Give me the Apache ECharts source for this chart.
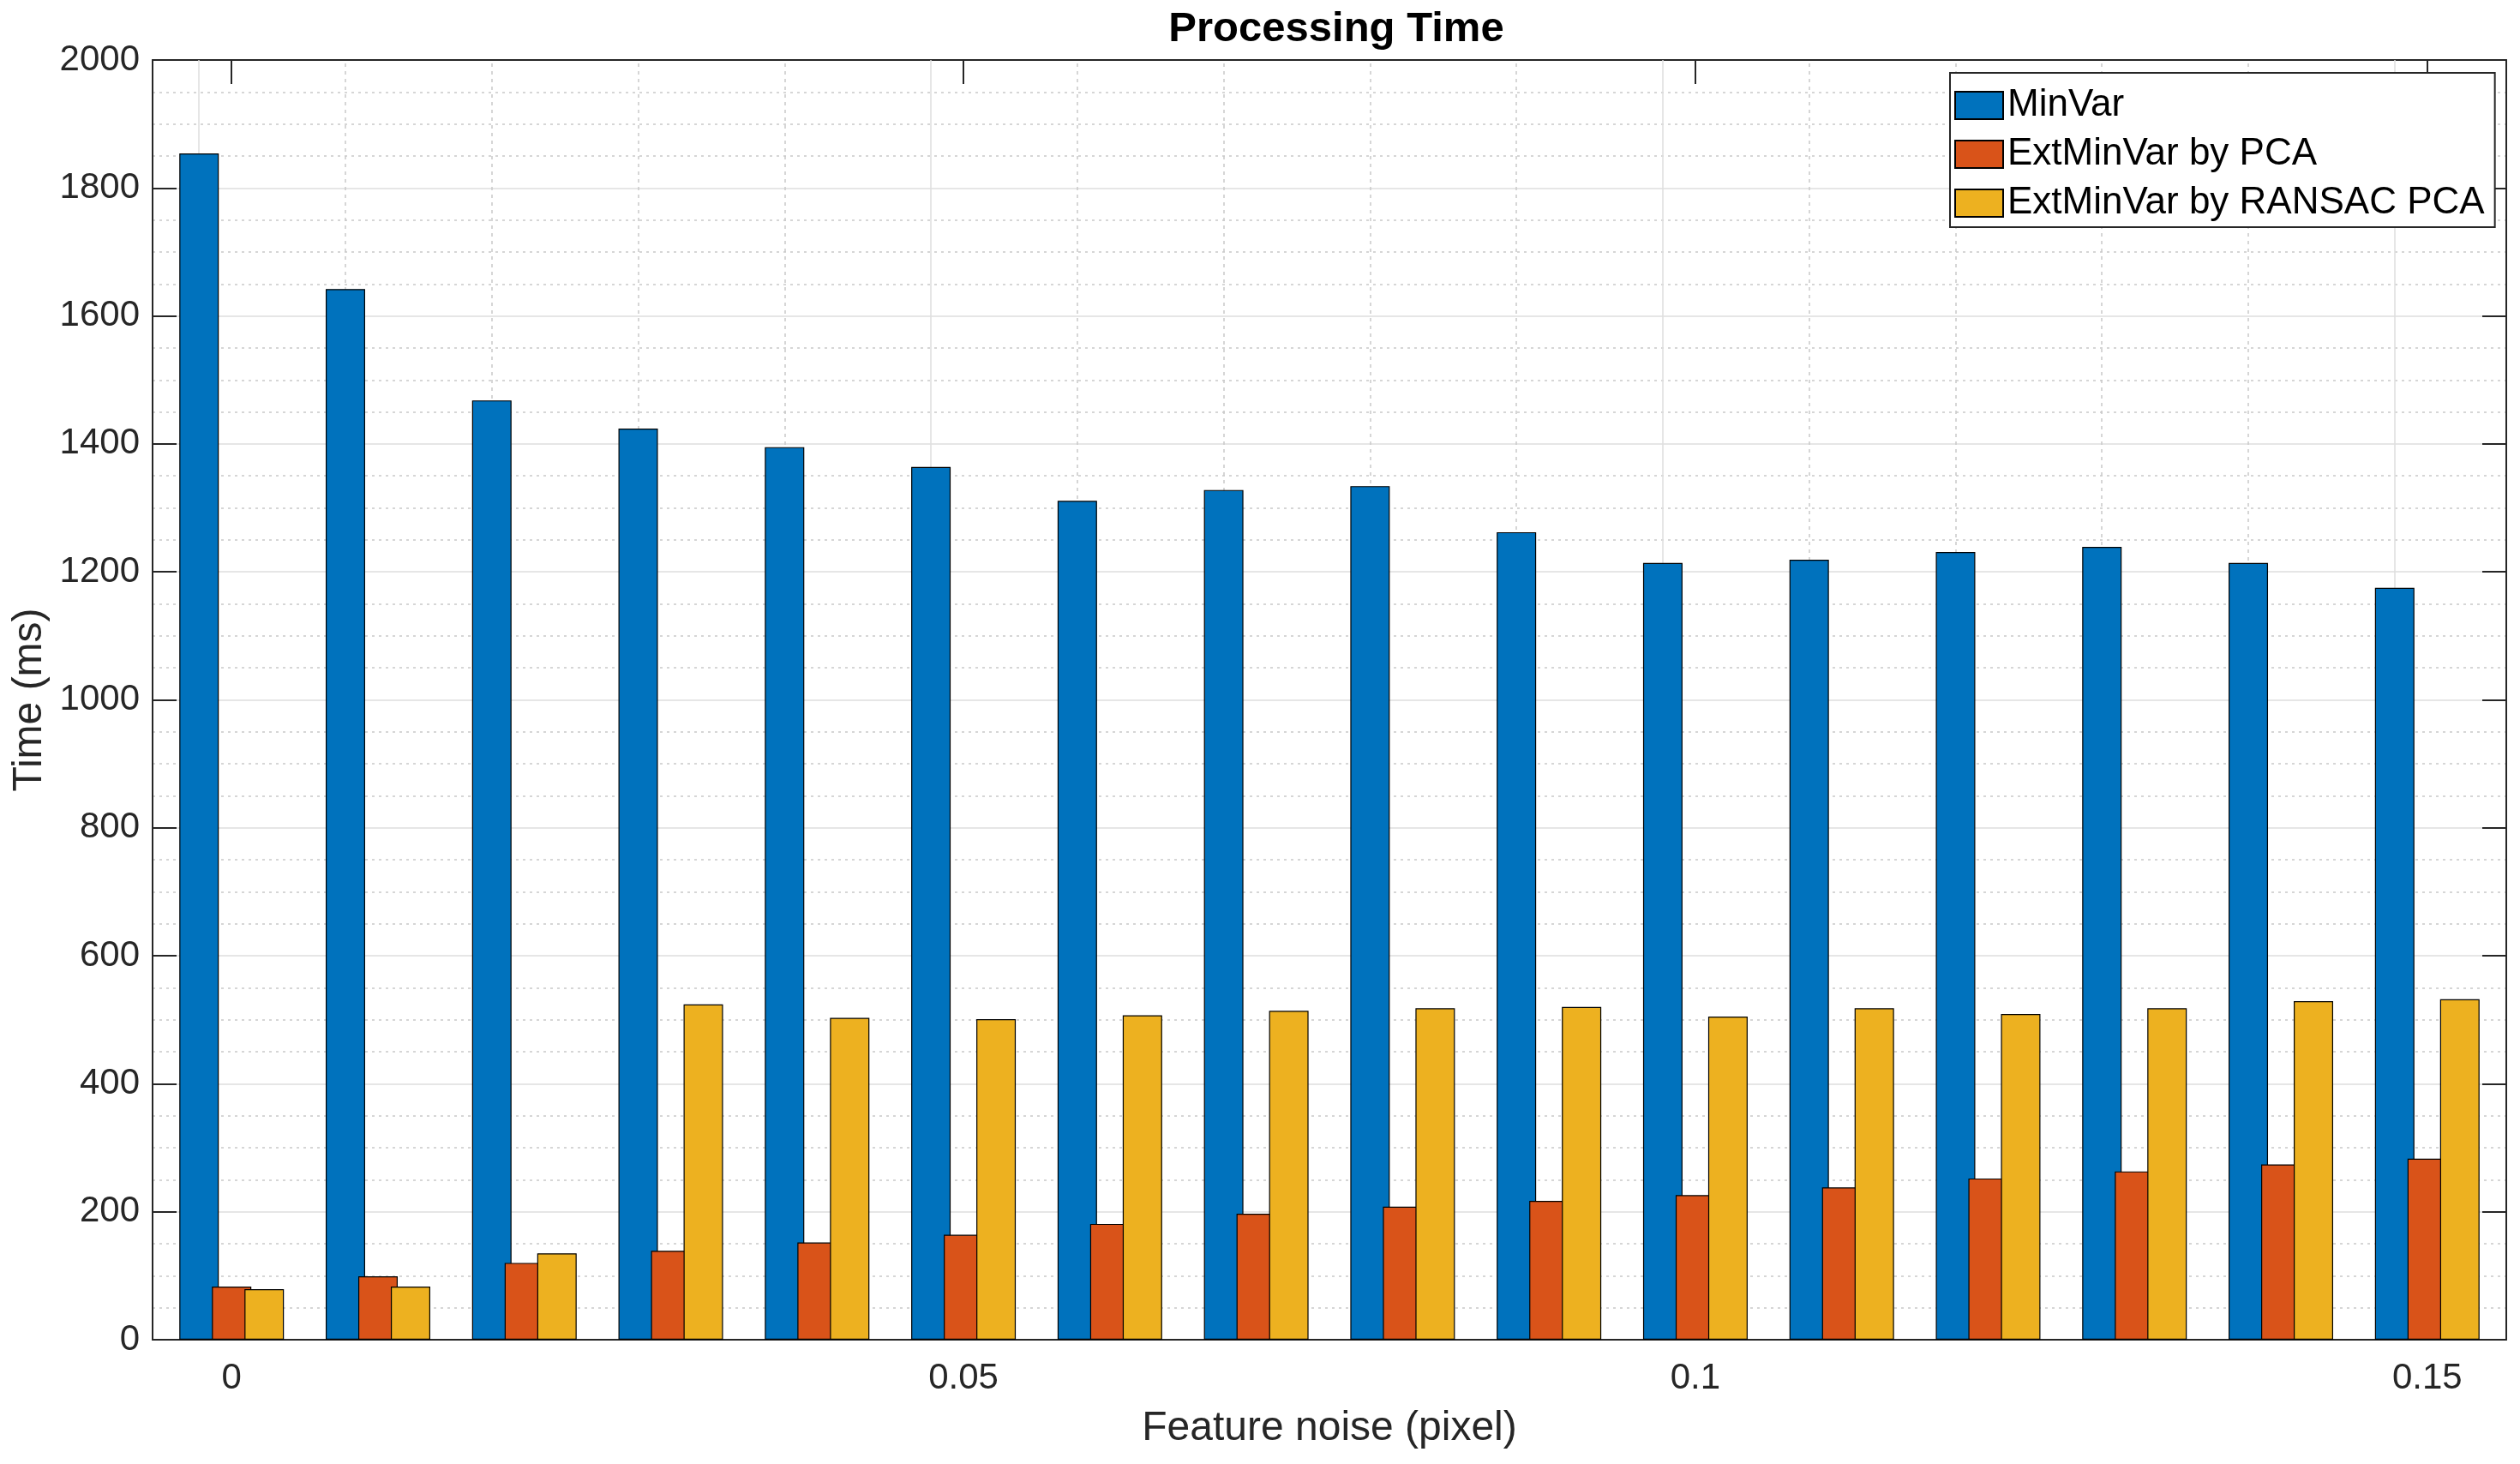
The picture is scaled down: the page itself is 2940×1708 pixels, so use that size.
<!DOCTYPE html>
<html>
<head>
<meta charset="utf-8">
<script src="https://cdn.jsdelivr.net/npm/echarts@6/dist/echarts.min.js"></script>
<style>
html,body{margin:0;padding:0;background:#fff;}
#chart{width:2940px;height:1708px;}
</style>
</head>
<body>
<div id="chart"></div>
<script>
const noise = [0, 0.01, 0.02, 0.03, 0.04, 0.05, 0.06, 0.07, 0.08, 0.09, 0.1, 0.11, 0.12, 0.13, 0.14, 0.15];
const minVar = [1854, 1642, 1468, 1424, 1395, 1364, 1311, 1328, 1334, 1262, 1214, 1219, 1231, 1239, 1214, 1175];
const extPCA = [83, 99, 120, 139, 152, 164, 181, 197, 208, 217, 226, 238, 252, 263, 274, 283];
const extRansac = [79, 83, 135, 524, 503, 501, 507, 514, 518, 520, 505, 518, 509, 518, 529, 532];
const xTicks = [0, 0.05, 0.1, 0.15];
const seriesNames = ['MinVar', 'ExtMinVar by PCA', 'ExtMinVar by RANSAC PCA'];
const colors = ['#0072BD', '#D95319', '#EDB120'];

const FONT = '"Liberation Sans", Arial, Helvetica, sans-serif';
const AXIS_COLOR = '#262626';
const X_MIN = -0.0054, X_MAX = 0.1554;

const chart = echarts.init(document.getElementById('chart'), null, {renderer: 'canvas'});

const majorV = {color: '#dedede', width: 1.5, type: 'solid'};
const minorV = {color: '#c9c9c9', width: 1.5, type: [4, 5]};

function barSeries(name, values, color, withGrid) {
  const s = {
    name: name,
    type: 'bar',
    data: noise.map((x, i) => [x, values[i]]),
    barWidth: 46,
    barGap: '-17.4%',
    itemStyle: {color: color, borderColor: '#000', borderWidth: 1.2},
    emphasis: {disabled: true},
    animation: false,
    z: 2
  };
  if (withGrid) {
    s.markLine = {
      silent: true,
      z: 1,
      symbol: ['none', 'none'],
      label: {show: false},
      animation: false,
      data: noise.map(v => ({xAxis: v, lineStyle: xTicks.includes(v) ? majorV : minorV}))
    };
  }
  return s;
}

const option = {
  backgroundColor: '#fff',
  animation: false,
  textStyle: {fontFamily: FONT},
  title: {
    text: 'Processing Time',
    left: 1554,
    textAlign: 'center',
    top: 5,
    textStyle: {fontFamily: FONT, fontSize: 49, fontWeight: 'bold', color: '#000'}
  },
  legend: {
    data: seriesNames,
    orient: 'vertical',
    left: 2275,
    top: 85,
    padding: [16, 12, 6, 5],
    itemWidth: 56,
    itemHeight: 32,
    itemGap: 13,
    icon: 'rect',
    selectedMode: false,
    backgroundColor: '#fff',
    borderColor: AXIS_COLOR,
    borderWidth: 2,
    borderRadius: 0,
    textStyle: {fontFamily: FONT, fontSize: 44, color: '#000', lineHeight: 32, padding: [0, 0, 0, 0]},
    z: 10
  },
  grid: {left: 178, right: 16, top: 70, bottom: 145, containLabel: false, outerBoundsMode: 'none'},
  xAxis: [
    {
      type: 'value',
      min: X_MIN,
      max: X_MAX,
      position: 'bottom',
      name: 'Feature noise (pixel)',
      nameLocation: 'middle',
      nameGap: 80,
      nameTextStyle: {fontFamily: FONT, fontSize: 48, color: AXIS_COLOR},
      axisLine: {show: true, onZero: false, lineStyle: {color: AXIS_COLOR, width: 2}},
      axisTick: {show: true, inside: true, length: 28, customValues: xTicks, lineStyle: {color: AXIS_COLOR, width: 2}},
      axisLabel: {show: true, customValues: xTicks, fontFamily: FONT, fontSize: 42, color: AXIS_COLOR, margin: 24,
        formatter: v => String(v)},
      splitLine: {show: false},
      minorSplitLine: {show: false}
    },
    {
      type: 'value',
      min: X_MIN,
      max: X_MAX,
      position: 'top',
      axisLine: {show: true, onZero: false, lineStyle: {color: AXIS_COLOR, width: 2}},
      axisTick: {show: true, inside: true, length: 28, customValues: xTicks, lineStyle: {color: AXIS_COLOR, width: 2}},
      axisLabel: {show: false},
      splitLine: {show: false}
    }
  ],
  yAxis: [
    {
      type: 'value',
      min: 0,
      max: 2000,
      interval: 200,
      position: 'left',
      name: 'Time (ms)',
      nameLocation: 'middle',
      nameGap: 112,
      nameTextStyle: {fontFamily: FONT, fontSize: 48, color: AXIS_COLOR},
      axisLine: {show: true, onZero: false, lineStyle: {color: AXIS_COLOR, width: 2}},
      axisTick: {show: true, inside: true, length: 28, lineStyle: {color: AXIS_COLOR, width: 2}},
      axisLabel: {fontFamily: FONT, fontSize: 42, color: AXIS_COLOR, margin: 15, formatter: v => String(v)},
      splitLine: {show: true, lineStyle: {color: '#dedede', width: 1.5}},
      minorTick: {show: false, splitNumber: 4},
      minorSplitLine: {show: true, lineStyle: {color: '#c9c9c9', width: 1.5, type: [3, 5]}}
    },
    {
      type: 'value',
      min: 0,
      max: 2000,
      interval: 200,
      position: 'right',
      axisLine: {show: true, onZero: false, lineStyle: {color: AXIS_COLOR, width: 2}},
      axisTick: {show: true, inside: true, length: 28, lineStyle: {color: AXIS_COLOR, width: 2}},
      axisLabel: {show: false},
      splitLine: {show: false}
    }
  ],
  series: [
    barSeries(seriesNames[0], minVar, colors[0], true),
    barSeries(seriesNames[1], extPCA, colors[1], false),
    barSeries(seriesNames[2], extRansac, colors[2], false)
  ]
};

chart.setOption(option);
</script>
</body>
</html>
